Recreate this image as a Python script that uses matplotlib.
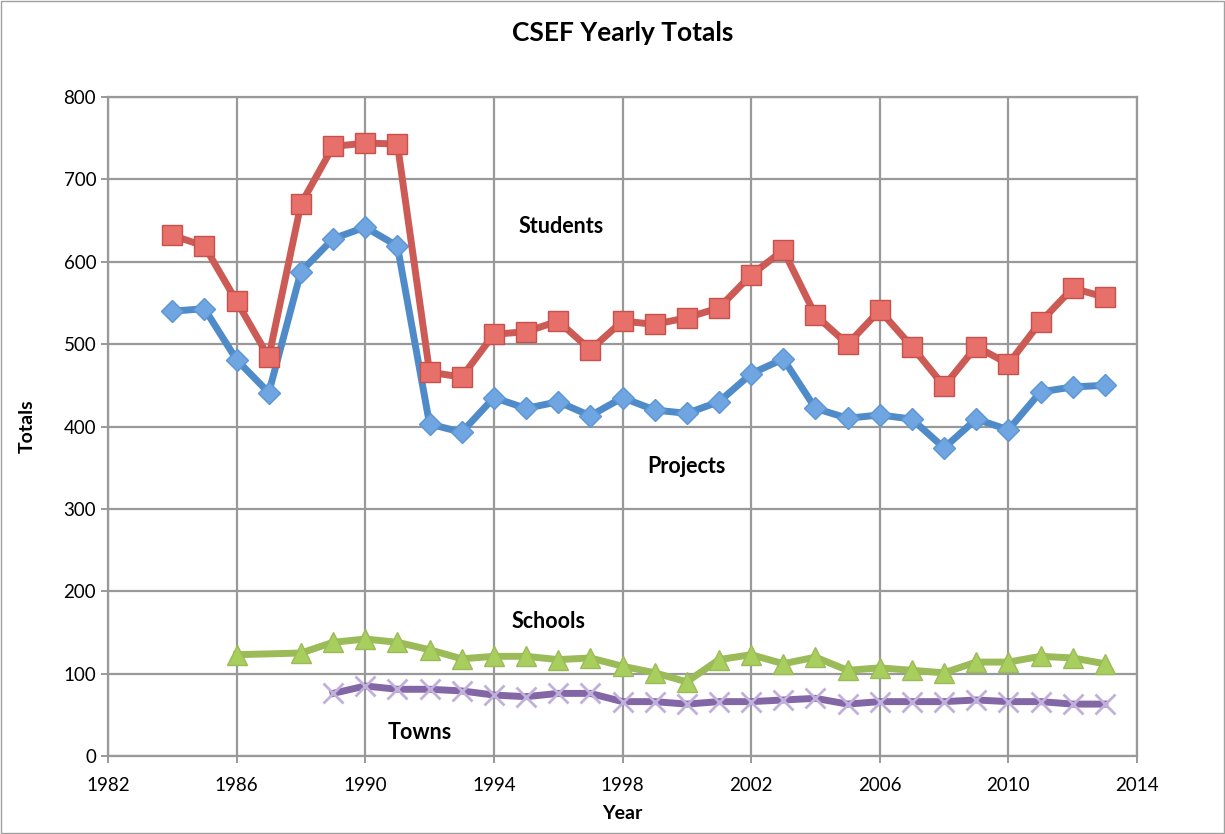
import matplotlib.pyplot as plt
from matplotlib.patches import Rectangle

plt.rcParams['font.family'] = ['Lato', 'DejaVu Sans']

# Data
years_main = list(range(1984, 2014))
students = [632, 619, 552, 484, 670, 740, 744, 743, 466, 460, 512, 515, 528, 493, 528,
            524, 532, 544, 584, 614, 535, 500, 541, 497, 449, 497, 476, 527, 568, 557]
projects = [540, 543, 481, 441, 588, 628, 642, 619, 403, 393, 435, 422, 430, 413, 435,
            420, 416, 430, 464, 482, 422, 410, 414, 409, 374, 409, 396, 442, 448, 450]

years_schools = [1986] + list(range(1988, 2014))
schools = [123, 125, 138, 142, 138, 129, 118, 121, 121, 117, 119, 109, 101, 90, 117,
           123, 112, 120, 104, 107, 104, 101, 114, 114, 121, 119, 112]

years_towns = list(range(1989, 2014))
towns = [76, 85, 81, 81, 79, 74, 72, 76, 76, 66, 66, 63, 66, 66, 68, 70, 63, 66, 66,
         66, 68, 66, 66, 63, 63]

fig = plt.figure(figsize=(12.25, 8.34), dpi=100)
ax = fig.add_axes([108 / 1225, 1 - 756 / 834, (1137 - 108) / 1225, (756 - 97) / 834])

# figure frame
fig.patches.append(Rectangle((0.001, 0.001), 0.998, 0.998, transform=fig.transFigure,
                             fill=False, edgecolor='#a0a0a0', linewidth=1))

lw = 5
ax.plot(years_main, projects, color='#4f8ac9', lw=lw, marker='D', markersize=11,
        markerfacecolor='#6fa5e0', markeredgecolor='#5b95d4', zorder=3)
ax.plot(years_main, students, color='#cc5a55', lw=lw, marker='s', markersize=15,
        markerfacecolor='#e8706a', markeredgecolor='#c9504b', markeredgewidth=1, zorder=4)
ax.plot(years_schools, schools, color='#9bbb59', lw=lw, marker='^', markersize=15,
        markerfacecolor='#a8cf5e', markeredgecolor='#9bbb59', zorder=3)
ax.plot(years_towns, towns, color='#8366a6', lw=lw, marker='x', markersize=14,
        markeredgecolor='#c2b0dc', markeredgewidth=2, zorder=3)

# series labels
lab = dict(fontsize=15.5, fontweight='bold', ha='center', va='center')
ax.text(1996.1, 643, 'Students', **lab)
ax.text(2000.0, 352, 'Projects', **lab)
ax.text(1995.7, 163, 'Schools', **lab)
ax.text(1991.7, 28, 'Towns', **lab)

ax.set_xlim(1982, 2014)
ax.set_ylim(0, 800)
ax.set_xticks(range(1982, 2015, 4))
ax.set_yticks(range(0, 801, 100))
ax.tick_params(labelsize=13.5, length=5, width=1.2, color='#888888', direction='out')
ax.tick_params(axis='x', pad=10)
ax.grid(True, color='#999999', linewidth=1.6)
ax.set_axisbelow(True)
for s in ax.spines.values():
    s.set_color('#999999')
    s.set_linewidth(1.6)

ax.set_title('CSEF Yearly Totals', fontsize=19, fontweight='bold', pad=40)
ax.set_xlabel('Year', fontsize=14, fontweight='bold', labelpad=8)
ax.set_ylabel('Totals', fontsize=14, fontweight='bold', labelpad=20)

fig.savefig('out.png', dpi=100)
